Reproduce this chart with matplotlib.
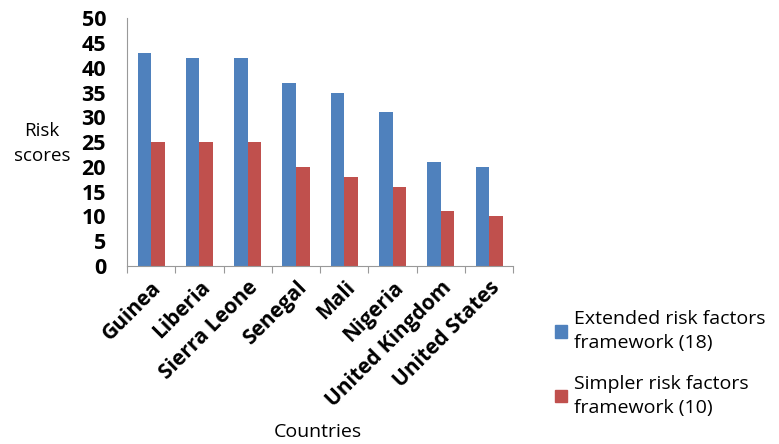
import matplotlib.pyplot as plt
import numpy as np
from matplotlib.patches import Patch

countries = ["Guinea", "Liberia", "Sierra Leone", "Senegal", "Mali",
             "Nigeria", "United Kingdom", "United States"]
extended = [43, 42, 42, 37, 35, 31, 21, 20]
simpler = [25, 25, 25, 20, 18, 16, 11, 10]
series_names = ["Extended risk factors\nframework (18)",
                "Simpler risk factors\nframework (10)"]
colors = ["#4F81BD", "#C0504D"]

plt.rcParams["font.family"] = ["Open Sans", "DejaVu Sans"]

fig = plt.figure(figsize=(7.79, 4.44), dpi=100)
ax = fig.add_axes([0.163, 0.401, 0.496, 0.558])

x = np.arange(len(countries))
w = 0.28
ax.bar(x - w / 2, extended, width=w, color=colors[0])
ax.bar(x + w / 2, simpler, width=w, color=colors[1])

ax.set_xlim(-0.5, len(countries) - 0.5)
ax.set_ylim(0, 50)
ax.set_yticks(np.arange(0, 51, 5))
ax.tick_params(axis="y", length=0, labelsize=15.5, pad=15)
for t in ax.get_yticklabels():
    t.set_fontweight("bold")

ax.set_xticks(np.arange(-0.5, len(countries), 1.0))
ax.set_xticklabels([])
ax.set_xticks(x, minor=True)
ax.set_xticklabels(countries, minor=True, rotation=45, ha="right",
                   rotation_mode="anchor", fontsize=15, fontweight="bold")
ax.tick_params(axis="x", which="major", length=5, color="#999999")
ax.tick_params(axis="x", which="minor", length=0, pad=8)

for s in ["top", "right"]:
    ax.spines[s].set_visible(False)
for s in ["left", "bottom"]:
    ax.spines[s].set_color("#999999")

fig.text(0.054, 0.676, "Risk\nscores", ha="center", va="center",
         fontsize=13.5, linespacing=1.5)
fig.text(0.408, 0.027, "Countries", ha="center", va="center", fontsize=14)

handles = [Patch(color=c) for c in colors]
leg = fig.legend(handles, series_names, loc="upper left",
                 bbox_to_anchor=(0.703, 0.319), frameon=False, fontsize=14,
                 handlelength=0.6, handleheight=0.6, handletextpad=0.35,
                 labelspacing=1.15, borderaxespad=0)
for t in leg.get_texts():
    t.set_linespacing(1.45)

fig.savefig("out.png", dpi=100)
